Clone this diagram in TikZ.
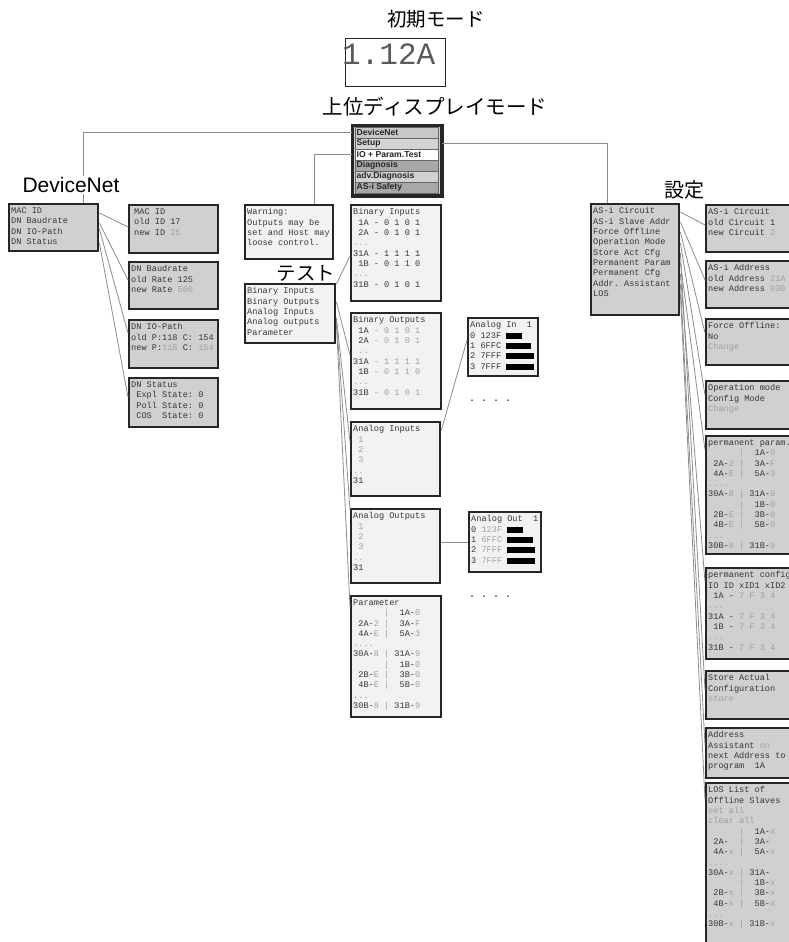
\documentclass[tikz,border=0pt]{standalone}
\usepackage{fontspec}
\setmainfont{Liberation Sans}
\setmonofont{Liberation Mono}
\newfontfamily\cjk{Noto Sans CJK JP}
\definecolor{bord}{HTML}{262626}
\definecolor{boxg}{HTML}{D0D0D0}
\definecolor{boxl}{HTML}{F2F2F2}
\definecolor{txtc}{HTML}{363636}
\definecolor{litec}{HTML}{A0A0A0}
\definecolor{lnc}{HTML}{8C8C8C}
\newcommand{\lite}[1]{\textcolor{litec}{#1}}
\newcommand{\spc}{\hphantom{0}}
\newcommand{\barr}[1]{\textcolor{black}{\rule[-0.5pt]{#1pt}{6pt}}}
\newcommand{\panel}[7]{%
 \node[#1, minimum width=#5pt, minimum height=#6pt] (#2) at (#3,#4) {};
 \node[mono] (#2t) at ([xshift=3pt,yshift=-4.5pt]#2.north west) {#7};}
\newcommand{\plines}{%
\spc\spc\spc\spc\spc\spc\lite{|}\spc\spc 1A-\lite{0}\\
\spc 2A-\lite{2}\spc\lite{|}\spc\spc 3A-\lite{F}\\
\spc 4A-\lite{E}\spc\lite{|}\spc\spc 5A-\lite{3}\\
\lite{....}\\
30A-\lite{8}\spc\lite{|}\spc 31A-\lite{9}\\
\spc\spc\spc\spc\spc\spc\lite{|}\spc\spc 1B-\lite{0}\\
\spc 2B-\lite{E}\spc\lite{|}\spc\spc 3B-\lite{0}\\
\spc 4B-\lite{E}\spc\lite{|}\spc\spc 5B-\lite{0}\\
\lite{...}\\
30B-\lite{8}\spc\lite{|}\spc 31B-\lite{9}}
\begin{document}
\begin{tikzpicture}[x=1pt,y=-1pt,
  dkbox/.style={draw=bord, line width=2.4pt, fill=boxg, inner sep=0pt, anchor=north west},
  ltbox/.style={draw=bord, line width=2.4pt, fill=boxl, inner sep=0pt, anchor=north west},
  mono/.style={font=\fontsize{8.6}{10.3}\selectfont\ttfamily, text=txtc, align=left, inner sep=0pt, anchor=north west},
  conn/.style={draw=lnc, line width=0.8pt},
  trunk/.style={draw=lnc, line width=1pt},
  mrow/.style={draw=black!60, line width=0.5pt, minimum width=83pt, minimum height=11pt, anchor=north west, inner sep=0pt},
  mtxt/.style={font=\fontsize{8.6}{9}\selectfont\bfseries, text=black!85, anchor=west, inner sep=0pt},
  jlab/.style={font=\cjk\fontsize{19.5}{20}\selectfont, text=black, inner sep=1pt},
  dots/.style={font=\ttfamily\bfseries\fontsize{10}{10}\selectfont, text=black!80, inner sep=0pt}]
\useasboundingbox (0,0) rectangle (789,942);
\clip (0,0) rectangle (789,942);

% ---- top ----
\node[jlab] (tinit) at (436,19) {初期モード};
\node[draw=black!85, line width=0.9pt, minimum width=100pt, minimum height=48pt, anchor=north west, inner sep=0pt] (disp) at (345,38) {};
\node[font=\ttfamily\fontsize{31}{31}\selectfont, text=black!65, anchor=base west, inner sep=0pt] (dispt) at (342,65) {1.12A};
\node[jlab, font=\cjk\fontsize{20.5}{21}\selectfont] (tupper) at (435,107) {上位ディスプレイモード};

% menu
\node[draw=bord, line width=2.4pt, fill=boxg, minimum width=88pt, minimum height=69pt, anchor=north west, inner sep=0pt] (menu) at (352,125) {};
\node[mrow, fill=black!22] (m1) at (354.5,127) {};
\node[mrow, fill=black!17] (m2) at (354.5,138) {};
\node[mrow, fill=white] (m3) at (354.5,149) {};
\node[mrow, fill=black!34] (m4) at (354.5,160) {};
\node[mrow, fill=black!18] (m5) at (354.5,171) {};
\node[mrow, fill=black!34] (m6) at (354.5,182) {};
\node[mtxt] (m1t) at ([xshift=2pt]m1.west) {DeviceNet};
\node[mtxt] (m2t) at ([xshift=2pt]m2.west) {Setup};
\node[mtxt] (m3t) at ([xshift=2pt]m3.west) {IO + Param.Test};
\node[mtxt] (m4t) at ([xshift=2pt]m4.west) {Diagnosis};
\node[mtxt] (m5t) at ([xshift=2pt]m5.west) {adv.Diagnosis};
\node[mtxt] (m6t) at ([xshift=2pt]m6.west) {AS-i Safety};
\draw[draw=bord, line width=2.4pt] (menu.north west) rectangle (menu.south east);

% ---- DeviceNet column ----
\panel{dkbox}{dnm}{8}{203}{89}{47}{MAC ID\\DN Baudrate\\DN IO-Path\\DN Status}
\panel{dkbox}{dn1}{128}{204}{89}{48}{\hspace{3pt}MAC ID\\\hspace{3pt}old ID 17\\\hspace{3pt}new ID \lite{25}}
\panel{dkbox}{dn2}{128}{261}{89}{47}{DN Baudrate\\old Rate 125\\new Rate \lite{500}}
\panel{dkbox}{dn3}{128}{319}{89}{48}{DN IO-Path\\old P:118 C: 154\\new P:\lite{118} C: \lite{154}}
\panel{dkbox}{dn4}{128}{377}{89}{49}{DN Status\\\spc Expl State: 0\\\spc Poll State: 0\\\spc COS\spc\spc State: 0}

\draw[conn] ([yshift=-10pt]dnm.north east) -- ([yshift=-23pt]dn1.north west);
\draw[conn] ([yshift=-20pt]dnm.north east) -- ([yshift=-19pt]dn2.north west);
\draw[conn] ([yshift=-26pt]dnm.north east) -- ([yshift=-14pt]dn3.north west);
\draw[conn] ([yshift=-40pt]dnm.north east) -- ([yshift=-20pt]dn4.north west);

% ---- Test column ----
\panel{ltbox}{wb}{244}{204}{88}{54}{Warning:\\Outputs may be\\set and Host may\\loose control.}
\panel{ltbox}{tm}{244}{283}{90}{59}{Binary Inputs\\Binary Outputs\\Analog Inputs\\Analog outputs\\Parameter}
\panel{ltbox}{bi}{350}{204}{90}{96}{Binary Inputs\\\spc 1A - 0 1 0 1\\\spc 2A - 0 1 0 1\\\lite{...}\\31A - 1 1 1 1\\\spc 1B - 0 1 1 0\\\lite{...}\\31B - 0 1 0 1}
\panel{ltbox}{bo}{350}{312}{90}{96}{Binary Outputs\\\spc 1A \lite{- 0 1 0 1}\\\spc 2A \lite{- 0 1 0 1}\\\lite{\spc ..}\\31A \lite{- 1 1 1 1}\\\spc 1B \lite{- 0 1 1 0}\\\lite{...}\\31B \lite{- 0 1 0 1}}
\panel{ltbox}{ai}{350}{421}{89}{74}{Analog Inputs\\\spc\lite{1}\\\spc\lite{2}\\\spc\lite{3}\\\lite{..}\\31}
\panel{ltbox}{ao}{350}{508}{89}{74}{Analog Outputs\\\spc\lite{1}\\\spc\lite{2}\\\spc\lite{3}\\\lite{..}\\31}
\panel{ltbox}{pa}{350}{595}{90}{121}{Parameter\\\plines}
\panel{ltbox}{ain}{467}{317}{70}{58}{Analog In\spc\spc 1\\0 123F \barr{16}\\1 6FFC \barr{25}\\2 7FFF \barr{28}\\3 7FFF \barr{28}}
\panel{ltbox}{aout}{468}{511}{72}{60}{Analog Out\spc\spc 1\\0 \lite{123F} \barr{16}\\1 \lite{6FFC} \barr{26}\\2 \lite{7FFF} \barr{28}\\3 \lite{7FFF} \barr{28}}
\node[dots] (d1) at (490,401) {. . . .};
\node[dots] (d2) at (490,597) {. . . .};

\draw[conn] ([yshift=-1pt]tm.north east) -- ([yshift=-52pt]bi.north west);
\draw[conn] ([yshift=-19pt]tm.north east) -- ([yshift=-43pt]bo.north west);
\draw[conn] ([yshift=-35pt]tm.north east) -- ([yshift=-21pt]ai.north west);
\draw[conn] ([yshift=-37pt]tm.north east) -- ([yshift=-2pt]ao.north west);
\draw[conn] ([yshift=-40pt]tm.north east) -- ([yshift=-12pt]pa.north west);
\draw[conn] ([yshift=-9pt]ai.north east) -- ([yshift=-23pt]ain.north west);
\draw[conn] ([yshift=-34pt]ao.north east) -- ([yshift=-31pt]aout.north west);

% ---- Setup column ----
\panel{dkbox}{asm}{590}{203}{88}{111}{AS-i Circuit\\AS-i Slave Addr\\Force Offline\\Operation Mode\\Store Act Cfg\\Permanent Param\\Permanent Cfg\\Addr. Assistant\\LOS}
\panel{dkbox}{s1}{705}{204}{100}{47}{AS-i Circuit\\old Circuit 1\\new Circuit \lite{2}}
\panel{dkbox}{s2}{705}{260}{100}{47}{AS-i Address\\old Address \lite{21A}\\new Address \lite{03B}}
\panel{dkbox}{s3}{705}{318}{100}{46}{Force Offline:\\No\\\lite{Change}}
\panel{dkbox}{s4}{705}{380}{100}{48}{Operation mode\\Config Mode\\\lite{Change}}
\panel{dkbox}{s5}{705}{435}{100}{118}{permanent param.\\\plines}
\panel{dkbox}{s6}{705}{567}{100}{91}{permanent config\\IO ID xID1 xID2\\\spc 1A - \lite{7 F 3 4}\\\lite{...}\\31A - \lite{7 F 3 4}\\\spc 1B - \lite{7 F 3 4}\\\lite{...}\\31B - \lite{7 F 3 4}}
\panel{dkbox}{s7}{705}{670}{100}{48}{Store Actual\\Configuration\\\lite{store}}
\panel{dkbox}{s8}{705}{727}{100}{50}{Address\\Assistant \lite{on}\\next Address to\\program\spc\spc 1A}
\panel{dkbox}{s9}{705}{782}{100}{170}{LOS List of\\Offline Slaves\\\lite{set all}\\\lite{clear all}\\%
\spc\spc\spc\spc\spc\spc\lite{|}\spc\spc 1A-\lite{x}\\
\spc 2A-\spc\spc\lite{|}\spc\spc 3A-\\
\spc 4A-\lite{x}\spc\lite{|}\spc\spc 5A-\lite{x}\\
\lite{....}\\
30A-\lite{x}\spc\lite{|}\spc 31A-\\
\spc\spc\spc\spc\spc\spc\lite{|}\spc\spc 1B-\lite{x}\\
\spc 2B-\lite{x}\spc\lite{|}\spc\spc 3B-\lite{x}\\
\spc 4B-\lite{x}\spc\lite{|}\spc\spc 5B-\lite{x}\\
\lite{...}\\
30B-\lite{x}\spc\lite{|}\spc 31B-\lite{x}}

\draw[conn] ([yshift=-9pt]asm.north east) -- ([yshift=-21pt]s1.north west);
\draw[conn] ([yshift=-19pt]asm.north east) -- ([yshift=-20pt]s2.north west);
\draw[conn] ([yshift=-29pt]asm.north east) -- ([yshift=-15pt]s3.north west);
\draw[conn] ([yshift=-40pt]asm.north east) -- ([yshift=-15pt]s4.north west);
\draw[conn] ([yshift=-50pt]asm.north east) -- ([yshift=-20pt]s7.north west);
\draw[conn] ([yshift=-60pt]asm.north east) -- ([yshift=-15pt]s5.north west);
\draw[conn] ([yshift=-71pt]asm.north east) -- ([yshift=-15pt]s6.north west);
\draw[conn] ([yshift=-81pt]asm.north east) -- ([yshift=-18pt]s8.north west);
\draw[conn] ([yshift=-91pt]asm.north east) -- ([yshift=-18pt]s9.north west);

% ---- trunks from menu ----
\draw[trunk] (menu.west |- m1.center) -| ([xshift=75pt]dnm.north west);
\draw[trunk] (menu.east |- m2.center) -| ([xshift=17pt]asm.north west);
\draw[trunk] (menu.west |- m3.center) -| ([xshift=70pt]wb.north west);

% ---- section labels ----
\node[font=\fontsize{21}{21}\selectfont, fill=white, inner sep=1pt] (ldn) at (71,185) {DeviceNet};
\node[jlab] (ltest) at (306,273) {テスト};
\node[jlab, font=\cjk\fontsize{20}{20}\selectfont] (lset) at (684,190) {設定};
\end{tikzpicture}
\end{document}
